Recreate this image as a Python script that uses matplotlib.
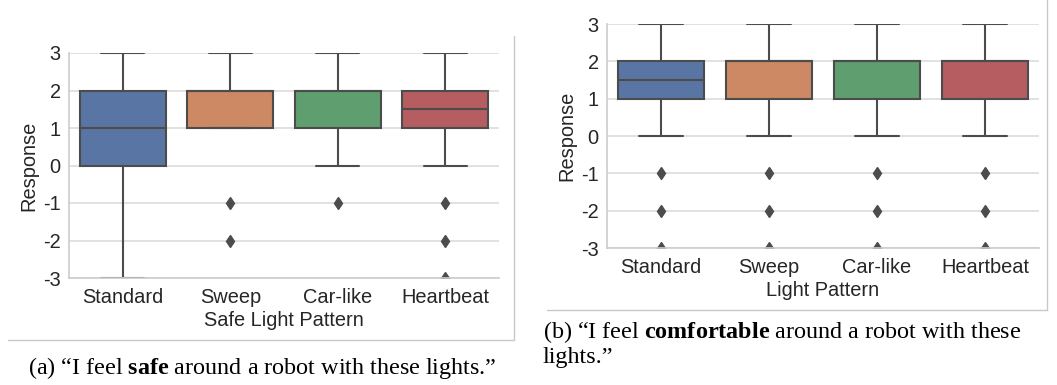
import matplotlib
matplotlib.use("Agg")
import matplotlib.pyplot as plt
import seaborn as sns
import colorsys
from matplotlib.lines import Line2D

# ---------------- data ----------------
categories = ["Standard", "Sweep", "Car-like", "Heartbeat"]

safe_q1 = [0, 1, 1, 1]
safe_med = [1, 2, 2, 1.5]
safe_q3 = [2, 2, 2, 2]
safe_whislo = [-3, 1, 0, 0]
safe_whishi = [3, 3, 3, 3]
safe_fliers = [[], [-1, -2], [-1], [-1, -2, -3]]

comf_q1 = [1, 1, 1, 1]
comf_med = [1.5, 2, 2, 2]
comf_q3 = [2, 2, 2, 2]
comf_whislo = [0, 0, 0, 0]
comf_whishi = [3, 3, 3, 3]
comf_fliers = [[-1, -2, -3], [-1, -2, -3], [-1, -2, -3], [-1, -2, -3]]

yticks = [-3, -2, -1, 0, 1, 2, 3]
xlabels = ["Safe Light Pattern", "Light Pattern"]
ylabel = "Response"
caption_a = r"(a) “I feel $\mathbf{safe}$ around a robot with these lights.”"
caption_b1 = r"(b) “I feel $\mathbf{comfortable}$ around a robot with these"
caption_b2 = "lights.”"

# ---------------- style ----------------
sns.set_style("whitegrid")
plt.rcParams["font.family"] = ["Liberation Sans", "DejaVu Sans"]
plt.rcParams["mathtext.fontset"] = "custom"
plt.rcParams["mathtext.rm"] = "Liberation Serif"
plt.rcParams["mathtext.bf"] = "Liberation Serif:bold"

pal = [sns.desaturate(c, 0.75) for c in sns.color_palette("deep", 4)]
lum = min(colorsys.rgb_to_hls(*c)[1] for c in pal) * 0.6
gray = (lum, lum, lum)

W, H = 1057, 385
fig = plt.figure(figsize=(W / 100, H / 100), dpi=100)


def px_axes(x0, y0, x1, y1):
    return fig.add_axes([x0 / W, 1 - y1 / H, (x1 - x0) / W, (y1 - y0) / H])


def draw_panel(ax, q1, med, q3, wlo, whi, fl, xlabel):
    stats = []
    for i, name in enumerate(categories):
        stats.append(dict(q1=q1[i], med=med[i], q3=q3[i], whislo=wlo[i],
                          whishi=whi[i], fliers=fl[i], label=name))
    bp = ax.bxp(stats, positions=range(len(categories)), widths=0.8,
                patch_artist=True, showfliers=True,
                boxprops=dict(edgecolor=gray, linewidth=1.5),
                whiskerprops=dict(color=gray, linewidth=1.5),
                capprops=dict(color=gray, linewidth=1.5),
                medianprops=dict(color=gray, linewidth=1.5),
                flierprops=dict(marker="d", markersize=6, markerfacecolor=gray,
                                markeredgecolor=gray, linestyle="none"))
    for patch, c in zip(bp["boxes"], pal):
        patch.set_facecolor(c)
    ax.set_xlim(-0.5, len(categories) - 0.5)
    ax.set_ylim(-3, 3)
    ax.set_yticks(yticks)
    ax.set_yticklabels([str(v) for v in yticks])
    ax.set_xticks(range(len(categories)))
    ax.set_xticklabels(categories)
    ax.tick_params(axis="both", labelsize=14.4, colors="#262626", length=0)
    ax.tick_params(axis="y", pad=6)
    ax.tick_params(axis="x", pad=7)
    ax.set_ylabel(ylabel, fontsize=14.4, color="#262626", labelpad=3)
    ax.set_xlabel(xlabel, fontsize=14.4, color="#262626", labelpad=3)
    ax.grid(axis="y", color="#dcdcdc", linewidth=1.2)
    ax.grid(axis="x", visible=False)
    for s in ["top", "right"]:
        ax.spines[s].set_visible(False)
    for s in ["left", "bottom"]:
        ax.spines[s].set_color("#cccccc")
        ax.spines[s].set_linewidth(1.2)
    ax.set_axisbelow(True)


ax1 = px_axes(69, 53, 499, 278)
draw_panel(ax1, safe_q1, safe_med, safe_q3, safe_whislo, safe_whishi, safe_fliers, xlabels[0])
ax2 = px_axes(607, 24, 1039, 248)
draw_panel(ax2, comf_q1, comf_med, comf_q3, comf_whislo, comf_whishi, comf_fliers, xlabels[1])

# frame lines of the two sub-figures
frame = dict(color="#c8c8c8", linewidth=1.0, transform=fig.transFigure)
fig.add_artist(Line2D([514 / W, 514 / W], [1 - 36 / H, 1 - 340 / H], **frame))
fig.add_artist(Line2D([8 / W, 514 / W], [1 - 340 / H, 1 - 340 / H], **frame))
fig.add_artist(Line2D([1047 / W, 1047 / W], [1, 1 - 310 / H], **frame))
fig.add_artist(Line2D([547 / W, 1047 / W], [1 - 310 / H, 1 - 310 / H], **frame))

cap_kw = dict(fontsize=17.4, family=["Liberation Serif", "DejaVu Serif"], color="black")
fig.text(262 / W, 1 - 368 / H, caption_a, ha="center", va="center", **cap_kw)
fig.text(543 / W, 1 - 332 / H, caption_b1, ha="left", va="center", **cap_kw)
fig.text(543 / W, 1 - 358 / H, caption_b2, ha="left", va="center", **cap_kw)

fig.savefig("out.png", dpi=100)
